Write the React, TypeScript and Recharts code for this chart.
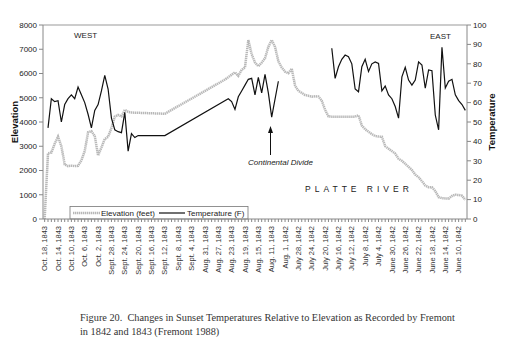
import React from 'react';
import { ComposedChart, Line, XAxis, YAxis, ReferenceLine, Customized } from 'recharts';

const _ = null;
const FONT = "'Liberation Sans', Arial, sans-serif";
const SERIF = "'Liberation Serif', 'Times New Roman', serif";

// One label every 4 daily categories
const tickLabels = [
  'Oct. 18, 1843', 'Oct. 14, 1843', 'Oct. 10, 1843', 'Oct. 6, 1843', 'Oct. 2, 1843',
  'Sept. 28, 1843', 'Sept. 24, 1843', 'Sept. 20, 1843', 'Sept. 16, 1843', 'Sept. 12, 1843',
  'Sept. 8, 1843', 'Sept. 4, 1843', 'Aug. 31, 1843', 'Aug. 27, 1843', 'Aug. 23, 1843',
  'Aug. 19, 1843', 'Aug. 15, 1843', 'Aug. 11, 1843', 'Aug. 1, 1842', 'July 28, 1842',
  'July 24, 1842', 'July 20, 1842', 'July 16, 1842', 'July 12, 1842', 'July 8, 1842',
  'July 4, 1842', 'June 30, 1842', 'June 26, 1842', 'June 22, 1842', 'June 18, 1842',
  'June 14, 1842', 'June 10, 1842',
];

// Elevation (feet), one value per daily category
const elevation = [
  0, 2710, 2740, 3100, 3400, 3000, 2250, 2180, 2200, 2180,
  2190, 2420, 2800, 3580, 3620, 3420, 2620, 2950, 3300, 3390,
  3750, 4220, 4290, 4230, 4500, 4420, 4390, _, _, _,
  _, _, _, _, _, _, 4340, _, _, _,
  _, _, _, _, _, _, _, _, _, _,
  _, _, _, _, 5750, 5850, 5950, 6050, 5900, 6150,
  6250, 7380, 6800, 6450, 6300, 6450, 6630, 7100, 7380, 7100,
  6500, 6250, 6075, 6010, 6200, 5500, 5280, 5200, 5115, 5080,
  5045, 5060, 5050, 4880, 4500, 4230, 4220, 4220, 4220, 4220,
  4220, 4220, 4220, 4220, 4280, 3850, 3700, 3600, 3500, 3420,
  3400, 3390, 3000, 2900, 2800, 2700, 2480, 2400, 2280, 2150,
  2020, 1830, 1720, 1560, 1380, 1310, 1310, 1150, 900, 860,
  850, 840, 950, 1000, 990, 960, 790,
];

// Sunset temperature (F), one value per daily category
const temperature = [
  _, 47, 62, 60.5, 61, 50, 59, 62, 64, 62,
  68, 64, 60, 54, 47, 56, 59, 66, 74, 67,
  52, 46, 45, 44.5, 55, 35, 44, 42, 43, _,
  _, _, _, _, _, _, 43, _, _, _,
  _, _, _, _, _, _, _, _, _, _,
  _, _, _, _, _, 62, 60.5, 56.5, 63, 66,
  69, 72, 72.5, 64, 73, 65, 74.5, 65, 52.5, _,
  71, _, _, _, _, _, _, _, _, _,
  _, _, _, _, _, _, 88, 72.5, 78.5, 82.3,
  84.5, 83.7, 80, 67, 65.6, 78.5, 82.3, 76, 80, 81,
  80.2, 66, 68.5, 64, 62, 58, 52, 73.3, 78.2, 71.6,
  69, 71.6, 81, 79.4, 67.4, 76.8, 76.4, 53.6, 46, 88.5,
  67.5, 71, 72, 64, 61, 59, 56,
];

const first1842Index = 71;
const legendLabels = ['Elevation (feet)', 'Temperature (F)'];
const elevationTicks = [0, 1000, 2000, 3000, 4000, 5000, 6000, 7000, 8000];
const temperatureTicks = [0, 10, 20, 30, 40, 50, 60, 70, 80, 90, 100];

const data = elevation.map((e, i) => ({
  i,
  elevation: e,
  temp1843: i < first1842Index ? temperature[i] : null,
  temp1842: i >= first1842Index ? temperature[i] : null,
}));
const categoryTicks = data.map((d) => d.i);

const ELEV_COLOR = '#b8b8b8';
const ELEV_DASH = '1.4 0.6';

const XTick = (props: any) => {
  const { x, y, payload } = props;
  const idx = payload.value;
  if (idx % 4 !== 0) return <g />;
  const label = tickLabels[idx / 4];
  if (!label) return <g />;
  return (
    <text
      x={x}
      y={y}
      transform={`rotate(-90 ${x} ${y})`}
      textAnchor="end"
      dy="0.35em"
      fontSize={7.5}
      fill="#333"
      fontFamily={FONT}
    >
      {label}
    </text>
  );
};

const Annotations = () => (
  <g fontFamily={FONT}>
    <text x={74} y={38} fontSize={8} fill="#222">WEST</text>
    <text x={430} y={39} fontSize={8} fill="#222">EAST</text>
    <line x1={270.5} y1={155} x2={270.5} y2={132} stroke="#111" strokeWidth={1} />
    <polygon points="270.5,126 268,133 273,133" fill="#111" />
    <text x={248} y={165} fontSize={8} fontStyle="italic" fill="#222">Continental Divide</text>
    <text x={305} y={192} fontSize={8.5} letterSpacing={4} fill="#222">PLATTE RIVER</text>
    <text
      x={18}
      y={122}
      transform="rotate(-90 18 122)"
      textAnchor="middle"
      fontSize={9.5}
      fontWeight="bold"
      fill="#111"
    >
      Elevation
    </text>
    <text
      x={495}
      y={122}
      transform="rotate(-90 495 122)"
      textAnchor="middle"
      fontSize={9.5}
      fontWeight="bold"
      fill="#111"
    >
      Temperature
    </text>
    <rect x={70} y={206.5} width={178} height={12.5} fill="#fff" stroke="#777" strokeWidth={0.8} />
    <line x1={73} y1={213} x2={100} y2={213} stroke={ELEV_COLOR} strokeWidth={2.5} strokeDasharray={ELEV_DASH} />
    <text x={101} y={213} dy="0.35em" fontSize={8} fill="#222">{legendLabels[0]}</text>
    <line x1={159} y1={213} x2={185} y2={213} stroke="#111" strokeWidth={1.2} />
    <text x={187} y={213} dy="0.35em" fontSize={8} fill="#222">{legendLabels[1]}</text>
  </g>
);

export default function App() {
  return (
    <div style={{ position: 'absolute', left: 0, top: 0, width: 510, height: 350, background: '#fff' }}>
      <ComposedChart
        width={510}
        height={350}
        data={data}
        margin={{ top: 25, right: 0, bottom: 71, left: 0 }}
      >
        <XAxis
          dataKey="i"
          type="number"
          domain={[-0.5, 126.5]}
          ticks={categoryTicks}
          interval={0}
          height={60}
          tickSize={3}
          tickMargin={4}
          stroke="#888"
          tick={<XTick />}
        />
        <YAxis
          yAxisId="left"
          domain={[0, 8000]}
          ticks={elevationTicks}
          interval={0}
          width={43}
          tickSize={4}
          tickMargin={2}
          stroke="#888"
          tick={{ fontSize: 8, fill: '#222', fontFamily: FONT }}
        />
        <YAxis
          yAxisId="right"
          orientation="right"
          domain={[0, 100]}
          ticks={temperatureTicks}
          interval={0}
          width={43}
          tickSize={4}
          tickMargin={2}
          stroke="#888"
          tick={{ fontSize: 8, fill: '#222', fontFamily: FONT }}
        />
        <ReferenceLine yAxisId="left" y={8000} stroke="#999" strokeWidth={1} />
        <Line
          yAxisId="left"
          dataKey="elevation"
          stroke={ELEV_COLOR}
          strokeWidth={2.5}
          strokeDasharray={ELEV_DASH}
          dot={false}
          connectNulls
          isAnimationActive={false}
        />
        <Line
          yAxisId="right"
          dataKey="temp1843"
          stroke="#111"
          strokeWidth={1.2}
          dot={false}
          connectNulls
          isAnimationActive={false}
        />
        <Line
          yAxisId="right"
          dataKey="temp1842"
          stroke="#111"
          strokeWidth={1.2}
          dot={false}
          connectNulls
          isAnimationActive={false}
        />
        <Customized component={Annotations} />
      </ComposedChart>
      <div
        style={{
          position: 'absolute',
          left: 80,
          top: 311,
          fontFamily: SERIF,
          fontSize: 10.3,
          lineHeight: '14px',
          color: '#333',
          whiteSpace: 'nowrap',
        }}
      >
        <div>Figure 20.&nbsp; Changes in Sunset Temperatures Relative to Elevation as Recorded by Fremont</div>
        <div>in 1842 and 1843 (Fremont 1988)</div>
      </div>
    </div>
  );
}
